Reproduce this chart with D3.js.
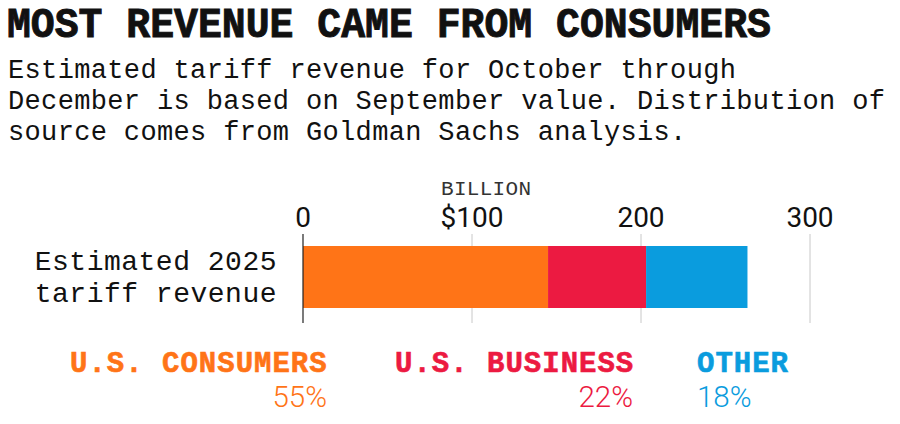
<!DOCTYPE html>
<html>
<head>
<meta charset="utf-8">
<script src="https://cdn.jsdelivr.net/npm/d3@7"></script>
<style>
  html, body { margin: 0; padding: 0; background: #fff; }
  svg { display: block; }
</style>
</head>
<body>
<svg id="chart" width="900" height="424"></svg>
<script>
const title = "MOST REVENUE CAME FROM CONSUMERS";
const subtitleLines = [
  "Estimated tariff revenue for October through",
  "December is based on September value. Distribution of",
  "source comes from Goldman Sachs analysis."
];
const rowLabel = ["Estimated 2025", "tariff revenue"];
const unitLabel = "BILLION";
const categories = ["U.S. CONSUMERS", "U.S. BUSINESS", "OTHER"];
const values = [145, 58, 60];
const shares = ["55%", "22%", "18%"];
const colors = ["#FF7417", "#EC1A41", "#0A9CDE"];
const tickValues = [0, 100, 200, 300];
const tickLabels = ["0", "$100", "200", "300"];

const svg = d3.select("#chart");
const mono = "'Liberation Mono', 'DejaVu Sans Mono', monospace";
const sans = "Roboto, 'Noto Sans', sans-serif";

// Title
svg.append("text")
  .attr("transform", "translate(7,37) scale(1,1.08)")
  .attr("font-family", mono).attr("font-weight", 700)
  .attr("font-size", 39.8).attr("fill", "#111")
  .attr("stroke", "#111").attr("stroke-width", 0.9)
  .text(title);

// Subtitle
svg.selectAll("text.sub").data(subtitleLines).join("text")
  .attr("class", "sub")
  .attr("x", 8).attr("y", (d, i) => 78 + i * 31)
  .attr("font-family", mono).attr("font-size", 27)
  .attr("letter-spacing", 0.35).attr("fill", "#111")
  .text(d => d);

// Scale
const x = d3.scaleLinear().domain([0, 300]).range([303, 810]);
const barTop = 246, barH = 62;

// Gridlines
svg.selectAll("line.grid").data(tickValues.slice(1)).join("line")
  .attr("class", "grid")
  .attr("x1", d => x(d)).attr("x2", d => x(d))
  .attr("y1", 234).attr("y2", 323)
  .attr("stroke", "#c8c8c8").attr("stroke-width", 1);

// Tick labels
svg.selectAll("text.tick").data(tickValues).join("text")
  .attr("class", "tick")
  .attr("x", d => x(d)).attr("y", 227)
  .attr("text-anchor", "middle")
  .attr("font-family", sans).attr("font-size", 28).attr("fill", "#111")
  .text((d, i) => tickLabels[i]);

// Unit label
svg.append("text")
  .attr("x", 441).attr("y", 195)
  .attr("font-family", mono).attr("font-size", 21)
  .attr("letter-spacing", 0.3).attr("fill", "#333")
  .text(unitLabel);

// Stacked bar
const stacked = [];
let acc = 0;
values.forEach((v, i) => { stacked.push({ x0: acc, x1: acc + v, c: colors[i] }); acc += v; });
svg.selectAll("rect.seg").data(stacked).join("rect")
  .attr("class", "seg")
  .attr("x", d => x(d.x0)).attr("width", d => x(d.x1) - x(d.x0))
  .attr("y", barTop).attr("height", barH)
  .attr("fill", d => d.c);

// Zero axis line
svg.append("line")
  .attr("x1", x(0)).attr("x2", x(0))
  .attr("y1", 234).attr("y2", 323)
  .attr("stroke", "#222").attr("stroke-width", 1.2);

// Row label
svg.selectAll("text.row").data(rowLabel).join("text")
  .attr("class", "row")
  .attr("x", 277).attr("y", (d, i) => 270 + i * 32)
  .attr("text-anchor", "end")
  .attr("font-family", mono).attr("font-size", 28)
  .attr("letter-spacing", 0.5).attr("fill", "#111")
  .text(d => d);

// Legend
const legX = [70, 395, 697];
const shareX = [327, 633, 697];
const shareAnchor = ["end", "end", "start"];
svg.selectAll("text.leg").data(categories).join("text")
  .attr("class", "leg")
  .attr("x", (d, i) => legX[i]).attr("y", 372)
  .attr("font-family", mono).attr("font-weight", 700)
  .attr("font-size", 29).attr("letter-spacing", 1)
  .attr("fill", (d, i) => colors[i])
  .attr("stroke", (d, i) => colors[i]).attr("stroke-width", 0.6)
  .text(d => d);
svg.selectAll("text.share").data(shares).join("text")
  .attr("class", "share")
  .attr("x", (d, i) => shareX[i]).attr("y", 407)
  .attr("text-anchor", (d, i) => shareAnchor[i])
  .attr("font-family", sans).attr("font-weight", 300)
  .attr("font-size", 29.5)
  .attr("fill", (d, i) => colors[i])
  .text(d => d);
</script>
</body>
</html>
